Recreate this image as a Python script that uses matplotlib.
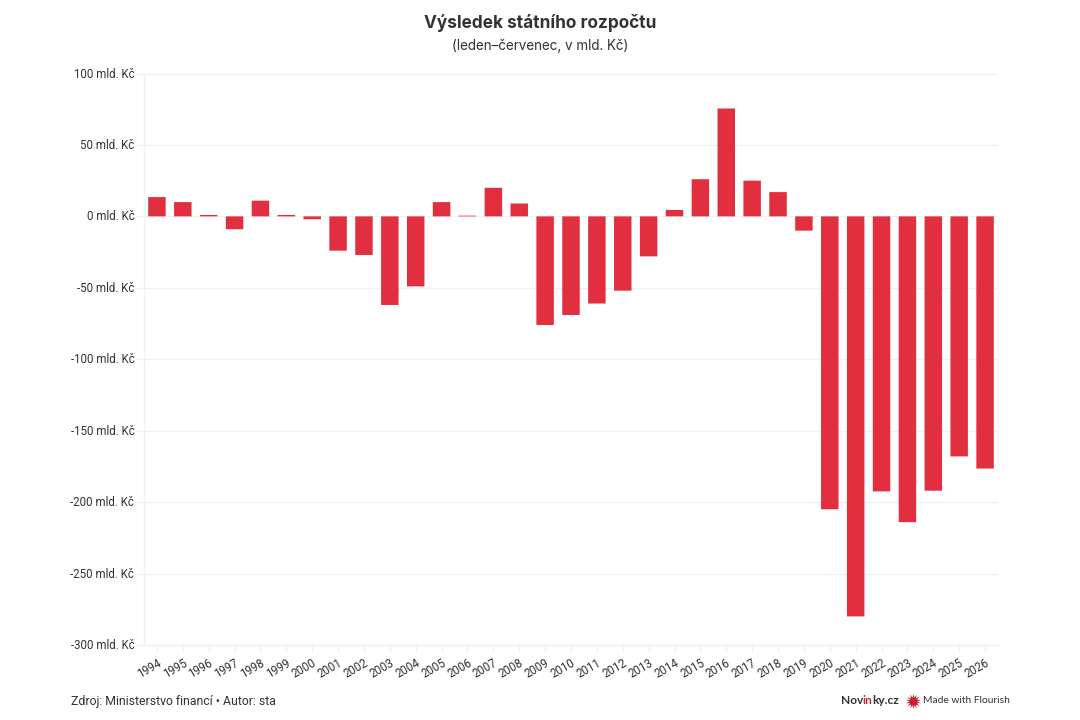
import matplotlib
matplotlib.use("Agg")
import matplotlib.pyplot as plt
from matplotlib.lines import Line2D
from matplotlib.transforms import ScaledTranslation

years = [str(y) for y in range(1994, 2027)]
balance = [13.5, 10, 1, -9, 11, 1, -2, -24, -27, -62, -49, 10, 0.5, 20, 9, -76, -69,
           -61, -52, -28, 4.5, 26, 75.5, 25, 17, -10, -205, -280, -192.5, -214, -192, -168, -176.5]
y_ticks = [100, 50, 0, -50, -100, -150, -200, -250, -300]
y_labels = [f"{v} mld. Kč" for v in y_ticks]

W, H = 1080, 720
RED = "#e22f3f"
GRID = "#f1f1f1"
TXT = "#333333"
plt.rcParams["font.family"] = ["Roboto", "DejaVu Sans"]

fig = plt.figure(figsize=(W / 100, H / 100), dpi=100, facecolor="white")
ax = fig.add_axes([144 / W, 1 - 645 / H, (998 - 144) / W, (645 - 73.5) / H])
bars = ax.bar(range(len(years)), balance, width=0.675, color=RED, zorder=3)
for b in bars:
    b.set_snap(False)
ax.set_xlim(-0.5, len(years) - 0.5)
ax.set_ylim(-300, 100)
ax.set_yticks(y_ticks)
ax.set_yticklabels(y_labels, fontsize=8.3, color=TXT)
ax.set_xticks(range(len(years)))
ax.set_xticklabels(years, fontsize=8.3, color=TXT, rotation=30, ha="right",
                   rotation_mode="anchor")
ax.tick_params(axis="y", length=5, width=1, color=GRID, pad=2)
ax.tick_params(axis="x", length=5, width=1, color=GRID, pad=3)
ax.grid(axis="y", color=GRID, lw=1, zorder=0)
for lab in ax.get_yticklabels():
    lab.set_transform(lab.get_transform() + ScaledTranslation(0, 1 / 100, fig.dpi_scale_trans))
for s in ["top", "right"]:
    ax.spines[s].set_visible(False)
for s in ["left", "bottom"]:
    ax.spines[s].set_color(GRID)
    ax.spines[s].set_linewidth(1)

def t(x, y, s, **kw):
    return fig.text(x / W, 1 - y / H, s, va="center", **kw)

t(540, 22.5, "Výsledek státního rozpočtu", ha="center", fontsize=12.4, fontweight="bold",
  color=TXT, family=["Inter", "DejaVu Sans"])
t(540, 46, "(leden–červenec, v mld. Kč)", ha="center", fontsize=9.7, color=TXT,
  family=["Inter", "DejaVu Sans"])
t(71, 701, "Zdroj: Ministerstvo financí • Autor: sta", ha="left", fontsize=8.85, color=TXT)

# brand text, coloured piecewise and chained left to right
r = fig.canvas.get_renderer()
x = 841
for piece, col in [("Nov", TXT), ("in", "#c8202f"), ("ky.cz", TXT)]:
    a = t(x, 700, piece, ha="left", fontsize=8.6, fontweight="bold", color=col,
          family=["Lato", "DejaVu Sans"])
    x += a.get_window_extent(r).width - 0.6
fig.add_artist(Line2D([912.5 / W], [1 - 700.5 / H], transform=fig.transFigure, marker=(14, 1, 0),
                      ms=11, color="#c8202f", mew=0, ls=""))
t(923, 700.5, "Made with Flourish", ha="left", fontsize=7.4, color=TXT,
  family=["Lato", "DejaVu Sans"])

fig.savefig("out.png", dpi=100, facecolor="white")
